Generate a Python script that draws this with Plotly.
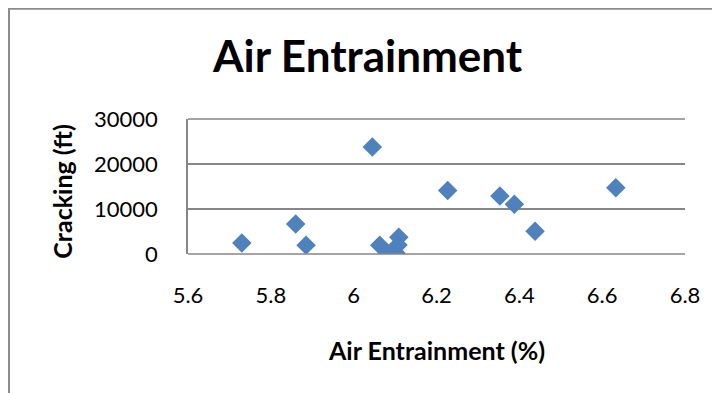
import plotly.graph_objects as go

air_entrainment = [5.73, 5.86, 5.885, 6.045, 6.063, 6.081, 6.102, 6.107, 6.109, 6.227, 6.353, 6.388, 6.438, 6.633]
cracking_ft = [2450, 6650, 1950, 23800, 1950, 200, 200, 2000, 3700, 14100, 12900, 11050, 5050, 14750]
x_ticks = [5.6, 5.8, 6.0, 6.2, 6.4, 6.6, 6.8]
x_tick_labels = ["5.6", "5.8", "6", "6.2", "6.4", "6.6", "6.8"]
y_ticks = [0, 10000, 20000, 30000]
y_tick_labels = ["0", "10000", "20000", "30000"]

W, H = 720, 393
OFF = 8  # page body margin
# plot area in screenshot pixels
Lp, Rp, Tp, Bp = 188, 685, 119, 253.7
L, R, T, B = Lp - OFF, Rp - OFF, Tp - OFF, Bp - OFF

def px(xp):
    return (xp - Lp) / (Rp - Lp)

def py(yp):
    return (Bp - yp) / (Bp - Tp)

FONT = "Lato"
grid = "#868686"

fig = go.Figure(go.Scatter(
    x=air_entrainment, y=cracking_ft, mode="markers",
    marker=dict(symbol="diamond", size=15, color="#4F81BD", line=dict(width=0)),
))

fig.update_layout(
    width=W, height=H,
    margin=dict(l=L, r=W - R, t=T, b=H - B),
    paper_bgcolor="white", plot_bgcolor="white",
    showlegend=False,
    xaxis=dict(range=[5.6, 6.8], tickvals=x_ticks, ticktext=x_tick_labels,
               showgrid=False, zeroline=False, showline=False,
               ticks="", ticklabelstandoff=26,
               tickfont=dict(family=FONT, size=22, color="black")),
    yaxis=dict(range=[0, 30000], tickvals=y_ticks, ticktext=y_tick_labels,
               showgrid=True, gridcolor=grid, gridwidth=1.5,
               zeroline=False, showline=True, linecolor=grid, linewidth=1.5,
               ticks="", ticklabelstandoff=24,
               tickfont=dict(family=FONT, size=22, color="black")),
    shapes=[
        dict(type="rect", xref="paper", yref="paper",
             x0=px(OFF + 1), x1=px(800), y0=py(460), y1=py(OFF + 1),
             line=dict(color="#8c8c8c", width=2), layer="below"),
        dict(type="line", xref="paper", yref="paper",
             x0=0, x1=1, y0=0, y1=0, line=dict(color=grid, width=1.5)),
        dict(type="line", xref="paper", yref="paper",
             x0=0, x1=1, y0=1, y1=1, line=dict(color=grid, width=1.5)),
    ],
    annotations=[
        dict(text="<b>Air Entrainment</b>", xref="paper", yref="paper",
             x=px(367.5), y=py(55), xanchor="center", yanchor="middle",
             showarrow=False, font=dict(family=FONT, size=44, color="black")),
        dict(text="<b>Air Entrainment (%)</b>", xref="paper", yref="paper",
             x=px(436), y=py(349), xanchor="center", yanchor="middle",
             showarrow=False, font=dict(family=FONT, size=25, color="black")),
        dict(text="<b>Cracking (ft)</b>", xref="paper", yref="paper",
             x=px(62), y=py(191.5), xanchor="center", yanchor="middle", textangle=-90,
             showarrow=False, font=dict(family=FONT, size=25, color="black")),
    ],
)

fig.write_html("out.html")
